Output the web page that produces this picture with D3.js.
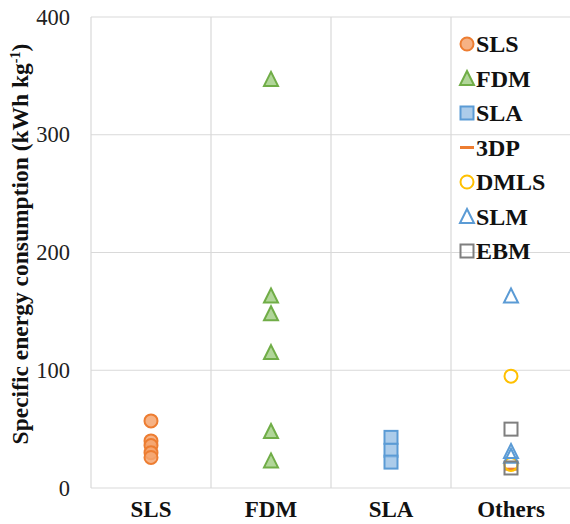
<!DOCTYPE html>
<html><head><meta charset="utf-8">
<script src="https://cdn.jsdelivr.net/npm/d3@7"></script>
<style>body{margin:0;background:#fff}svg{display:block}</style>
</head><body>
<svg id="c" width="570" height="524"></svg>
<script>
const categories = ["SLS","FDM","SLA","Others"];
const yTicks = [0,100,200,300,400];
const slsValues = [57,40,36,30,26];
const fdmValues = [347,163,148,115,48,23];
const slaValues = [43,32,22];
const p3dpValues = [16];
const dmlsValues = [95,20];
const slmValues = [163,31,27];
const ebmValues = [50,17];

const series = [
  {name:"SLS", cat:"SLS", values:slsValues, shape:"circle", fill:"#F4A46E", stroke:"#ED7D31"},
  {name:"FDM", cat:"FDM", values:fdmValues, shape:"triangle", fill:"#A9D18E", stroke:"#70AD47"},
  {name:"SLA", cat:"SLA", values:slaValues, shape:"square", fill:"#9DC3E6", stroke:"#5B9BD5"},
  {name:"3DP", cat:"Others", values:p3dpValues, shape:"dash", fill:"none", stroke:"#ED7D31"},
  {name:"DMLS", cat:"Others", values:dmlsValues, shape:"circle", fill:"none", stroke:"#FFC000"},
  {name:"SLM", cat:"Others", values:slmValues, shape:"triangle", fill:"none", stroke:"#5B9BD5"},
  {name:"EBM", cat:"Others", values:ebmValues, shape:"square", fill:"none", stroke:"#7F7F7F"}
];

const svg = d3.select("#c");
const L=91, R=571, T=17, B=488;
const x = d3.scaleBand().domain(categories).range([L,R]);
const y = d3.scaleLinear().domain([0,400]).range([B,T]);

// gridlines
svg.append("g").selectAll("line").data(yTicks).join("line")
  .attr("x1",L).attr("x2",R).attr("y1",d=>y(d)).attr("y2",d=>y(d))
  .attr("stroke","#d9d9d9").attr("stroke-width",1.2);
svg.append("g").selectAll("line").data(categories.slice(1)).join("line")
  .attr("x1",d=>x(d)).attr("x2",d=>x(d)).attr("y1",T).attr("y2",B)
  .attr("stroke","#d9d9d9").attr("stroke-width",1.2);
svg.append("line").attr("x1",L).attr("x2",L).attr("y1",T).attr("y2",B).attr("stroke","#d9d9d9").attr("stroke-width",1.2);

// y axis labels
const yAxis = d3.axisLeft(y).tickValues(yTicks).tickSize(0).tickPadding(21);
const ga = svg.append("g").attr("transform",`translate(${L},0)`).call(yAxis);
ga.select(".domain").remove();
ga.selectAll("text").attr("font-family","Liberation Serif").attr("font-size",22.5).attr("fill","#222");

// x axis labels
const xAxis = d3.axisBottom(x).tickSize(0).tickPadding(13);
const gx = svg.append("g").attr("transform",`translate(0,${B})`).call(xAxis);
gx.select(".domain").remove();
gx.selectAll("text").attr("font-family","Liberation Serif").attr("font-size",23).attr("font-weight","bold").attr("fill","#111");

// y title
const t = svg.append("text").attr("transform",`translate(28,244) rotate(-90)`)
  .attr("text-anchor","middle").attr("font-family","Liberation Serif").attr("font-weight","bold")
  .attr("font-size",23.5).attr("fill","#111");
t.append("tspan").text("Specific energy consumption (kWh kg");
t.append("tspan").attr("dy",-8).attr("font-size",14).text("-1");
t.append("tspan").attr("dy",8).text(")");

function drawMarker(g, s, cx, cy){
  const sw = 2;
  if(s.shape==="circle"){
    g.append("circle").attr("cx",cx).attr("cy",cy).attr("r",6.5)
      .attr("fill",s.fill).attr("fill-opacity",s.fill==="none"?0:0.85).attr("stroke",s.stroke).attr("stroke-width",sw);
  } else if(s.shape==="triangle"){
    const h=13, w=14;
    g.append("path").attr("d",`M${cx},${cy-h/2-1}L${cx+w/2},${cy+h/2}L${cx-w/2},${cy+h/2}Z`)
      .attr("fill",s.fill).attr("fill-opacity",s.fill==="none"?0:0.9).attr("stroke",s.stroke).attr("stroke-width",sw).attr("stroke-linejoin","miter");
  } else if(s.shape==="square"){
    g.append("rect").attr("x",cx-6.5).attr("y",cy-6.5).attr("width",13).attr("height",13)
      .attr("fill",s.fill).attr("fill-opacity",s.fill==="none"?0:0.85).attr("stroke",s.stroke).attr("stroke-width",sw);
  } else if(s.shape==="dash"){
    g.append("line").attr("x1",cx-7).attr("x2",cx+7).attr("y1",cy).attr("y2",cy)
      .attr("stroke",s.stroke).attr("stroke-width",3);
  }
}

const pts = svg.append("g");
series.forEach(s=>{
  s.values.forEach(v=>{
    drawMarker(pts, s, x(s.cat)+x.bandwidth()/2, y(v));
  });
});

// legend
const lg = svg.append("g");
series.forEach((s,i)=>{
  const cy = 44 + i*34.5;
  drawMarker(lg, s, 467, cy);
  lg.append("text").attr("x",476).attr("y",cy+8).text(s.name)
    .attr("font-family","Liberation Serif").attr("font-weight","bold").attr("font-size",24).attr("fill","#111");
});
</script>
</body></html>
